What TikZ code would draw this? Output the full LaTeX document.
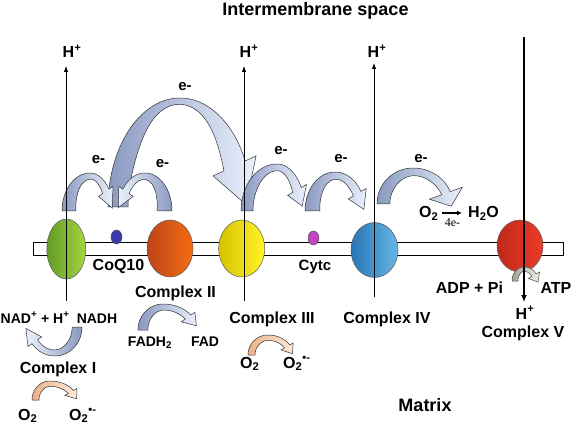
\documentclass[tikz,border=0pt]{standalone}
\usepackage{fontspec}
\setmainfont{Liberation Sans}
\newfontfamily\serifrm{Liberation Serif}
\usetikzlibrary{shapes.geometric,arrows.meta}

\definecolor{bdark}{RGB}{138,153,192}
\definecolor{blight}{RGB}{234,241,252}
\definecolor{pdark}{RGB}{236,176,138}
\definecolor{plight}{RGB}{253,234,218}
\definecolor{gdark}{RGB}{160,160,146}
\definecolor{glight}{RGB}{242,242,236}
\definecolor{grA}{RGB}{98,156,38}
\definecolor{grB}{RGB}{164,214,64}
\definecolor{orA}{RGB}{190,68,24}
\definecolor{orB}{RGB}{244,108,18}
\definecolor{yeA}{RGB}{214,194,0}
\definecolor{yeB}{RGB}{255,244,40}
\definecolor{blA}{RGB}{40,118,182}
\definecolor{blB}{RGB}{102,182,228}
\definecolor{reA}{RGB}{192,40,28}
\definecolor{reB}{RGB}{236,60,38}
\definecolor{coqc}{RGB}{56,56,168}
\definecolor{cytcc}{RGB}{196,66,196}

\pgfkeys{/carr/.cd,
  cx/.store in=\cAx, cy/.store in=\cAy, a/.store in=\cAa, ar/.store in=\cAar,
  b/.store in=\cAb, wt/.store in=\cAwt, wh/.store in=\cAwh, dip/.store in=\cAdip,
  phi/.store in=\cAphi, hw/.store in=\cAhw, hl/.store in=\cAhl,
  s/.store in=\cAs, v/.store in=\cAv}

\newcommand\carrow[2][]{%
  \pgfkeys{/carr/.cd,s=1,v=1,wt=12,wh=9,dip=3,phi=30,hw=5,hl=15,ar=-1,#2}%
  \pgfmathsetmacro\cAAR{\cAar<0?\cAa:\cAar}%
  \pgfmathsetmacro\cAc{cos(\cAphi)}%
  \pgfmathsetmacro\cAsn{sin(\cAphi)}%
  \pgfmathsetmacro\cAW{\cAwh-\cAdip*(\cAsn)^4}%
  \pgfmathsetmacro\cAap{\cAAR-\cAW/2}%
  \pgfmathsetmacro\cAbp{\cAb-\cAW/2}%
  \pgfmathsetmacro\cAtx{\cAs*\cAap*\cAsn}%
  \pgfmathsetmacro\cAty{\cAv*\cAbp*\cAc}%
  \pgfmathsetmacro\cAL{sqrt(\cAtx*\cAtx+\cAty*\cAty)}%
  \path[#1] plot[variable=\t,domain=180:\cAphi,samples=60]
     ({\cAx+\cAs*(\t>90?\cAa:\cAAR)*cos(\t)},{\cAy-\cAv*\cAb*sin(\t)})
   -- ({\cAx+\cAs*(\cAAR+\cAhw)*\cAc},{\cAy-\cAv*(\cAb+\cAhw)*\cAsn})
   -- ({\cAx+\cAs*\cAap*\cAc+\cAhl*\cAtx/\cAL},{\cAy-\cAv*\cAbp*\cAsn+\cAhl*\cAty/\cAL})
   -- ({\cAx+\cAs*(\cAAR-\cAW-\cAhw)*\cAc},{\cAy-\cAv*(\cAb-\cAW-\cAhw)*\cAsn})
   -- plot[variable=\t,domain=\cAphi:180,samples=60]
     ({\cAx+\cAs*((\t>90?\cAa:\cAAR)-(\cAwh+(\cAwt-\cAwh)*(\t-\cAphi)/(180-\cAphi)-\cAdip*sin(\t)^4))*cos(\t)},
      {\cAy-\cAv*(\cAb-(\cAwh+(\cAwt-\cAwh)*(\t-\cAphi)/(180-\cAphi)-\cAdip*sin(\t)^4))*sin(\t)})
   -- cycle;
}

\tikzset{
  blueR/.style={draw=black!80, line width=0.5pt, left color=bdark, right color=blight},
  blueL/.style={draw=black!80, line width=0.5pt, left color=blight, right color=bdark},
  peachR/.style={draw=black!80, line width=0.5pt, left color=pdark, right color=plight},
  greyR/.style={draw=black!70, line width=0.5pt, left color=gdark, right color=glight},
  cplx/.style={ellipse, draw=black!65, line width=0.5pt, inner sep=0pt},
  lbl/.style={font=\fontsize{16}{18}\selectfont\bfseries, inner sep=0pt, anchor=base},
  chem/.style={font=\fontsize{14}{16}\selectfont\bfseries, inner sep=0pt, anchor=base},
  elbl/.style={font=\fontsize{15}{17}\selectfont\bfseries, inner sep=0pt, anchor=base},
  biglbl/.style={font=\fontsize{18}{20}\selectfont\bfseries, inner sep=0pt, anchor=base},
  serlbl/.style={font=\fontsize{12}{14}\selectfont\serifrm, inner sep=0pt, anchor=base},
  vline/.style={line width=0.8pt, -{Latex[length=6pt,width=4.5pt]}},
  vthick/.style={line width=2.4pt, -{Latex[length=7pt,width=6pt]}}
}

\begin{document}
\begin{tikzpicture}[x=1pt,y=-1pt]
\useasboundingbox (0,0) rectangle (572,427);
\fill[white] (0,0) rectangle (572,427);

% membrane
\draw[line width=0.6pt, fill=white] (33,242.5) rectangle (563,255);

% complexes
\node[cplx, minimum width=39pt, minimum height=60pt, left color=grA, right color=grB] (c1) at (66.3,249) {};
\node[cplx, minimum width=11pt, minimum height=14pt, fill=coqc] (coq) at (116.5,237) {};
\node[cplx, minimum width=46pt, minimum height=57pt, left color=orA, right color=orB] (c2) at (170,248.5) {};
\node[cplx, minimum width=46pt, minimum height=57pt, left color=yeA, right color=yeB] (c3) at (241.7,248.5) {};
\node[cplx, minimum width=11pt, minimum height=14pt, fill=cytcc] (cyt) at (313.5,238) {};
\node[cplx, minimum width=47pt, minimum height=55pt, left color=blA, right color=blB] (c4) at (374.5,250) {};
\node[cplx, minimum width=46pt, minimum height=52pt, left color=reA, right color=reB] (c5) at (520,246) {};

% electron arrows
\carrow[blueR]{cx=180,cy=207,a=72,ar=72,b=109,wt=20,wh=24,dip=16,phi=25,hw=12,hl=40}
\carrow[blueR]{cx=90,cy=211,a=28,ar=23,b=38,wt=14,wh=8,dip=4,phi=35,hw=5,hl=18}
\carrow[blueL]{s=-1,cx=145,cy=211,a=27,ar=27,b=38,wt=15,wh=8,dip=4,phi=35,hw=5,hl=18}
\carrow[blueR]{cx=277,cy=211,a=36,ar=28,b=47,wt=12,wh=10,dip=4,phi=30,hw=6,hl=17}
\carrow[blueR]{cx=335,cy=211,a=30,ar=30,b=39,wt=15,wh=9,dip=4,phi=30,hw=6,hl=17}
\carrow[blueR]{cx=413,cy=204,a=36,ar=39.5,b=36,wt=13,wh=9,dip=3,phi=20,hw=13,hl=14}

% matrix side arrows
\carrow[blueL]{s=-1,v=-1,cx=55,cy=327,a=27,ar=28,b=29,wt=10,wh=7,dip=2,phi=35,hw=5,hl=16}
\carrow[blueR]{cx=163,cy=330,a=25,ar=34,b=26,wt=10,wh=7,dip=2,phi=35,hw=5,hl=12}
\carrow[peachR]{cx=50,cy=400,a=18,ar=27,b=19,wt=7,wh=6,dip=1,phi=30,hw=4,hl=9}
\carrow[peachR]{cx=268,cy=355,a=20,ar=25,b=20,wt=7,wh=6,dip=1,phi=30,hw=4,hl=9}
\carrow[greyR]{cx=524,cy=281,a=12,ar=14,b=14,wt=6,wh=5,dip=1,phi=30,hw=4,hl=8}

% proton lines
\coordinate (l1b) at (66,301);  \coordinate (l1t) at (66,66);
\coordinate (l3b) at (244,301); \coordinate (l3t) at (244,66);
\coordinate (l4b) at (374,297); \coordinate (l4t) at (374,63);
\coordinate (l5t) at (524,37);  \coordinate (l5b) at (524,302);
\draw[vline] (l1b) -- (l1t);
\draw[vline] (l3b) -- (l3t);
\draw[vline] (l4b) -- (l4t);
\draw[vthick] (l5t) -- (l5b);

% labels
\node[biglbl] (ims) at (315.5,16) {Intermembrane space};
\node[biglbl] (mtx) at (425,411) {Matrix};
\node[lbl] (h1) at (72,58) {H\textsuperscript{+}};
\node[lbl] (h3) at (249,58) {H\textsuperscript{+}};
\node[lbl] (h4) at (377,58) {H\textsuperscript{+}};
\node[lbl] (h5) at (525,319) {H\textsuperscript{+}};

\node[elbl] (ebig) at (185,91) {e-};
\node[elbl] (e1) at (98.5,164) {e-};
\node[elbl] (e2) at (162.5,168) {e-};
\node[elbl] (e3) at (281,155) {e-};
\node[elbl] (e4) at (341,163) {e-};
\node[elbl] (e5) at (421,163) {e-};

\node[lbl] (tcoq) at (118.5,270) {CoQ10};
\node[lbl] (tc2) at (175.5,297) {Complex II};
\node[lbl] (tc3) at (272,323) {Complex III};
\node[elbl] (tcyt) at (315,270) {Cytc};
\node[lbl] (tc4) at (387,323) {Complex IV};
\node[lbl] (tadp) at (469.5,294) {ADP + Pi};
\node[lbl] (tatp) at (556,294) {ATP};
\node[lbl] (tc5) at (523,337) {Complex V};

\node[chem, anchor=base west] (tnad) at (0.5,323) {NAD\textsuperscript{+} + H\textsuperscript{+}};
\node[chem] (tnadh) at (97,323) {NADH};
\node[chem] (tfadh) at (150,346) {FADH\textsubscript{2}};
\node[chem] (tfad) at (205,346) {FAD};
\node[lbl] (tc1) at (58,373) {Complex I};

\node[lbl, anchor=base west] (o2a) at (18,420) {O\textsubscript{2}};
\node[lbl, anchor=base west] (o2b) at (69,420) {O\textsubscript{2}\textsuperscript{•-}};
\node[lbl, anchor=base west] (o2c) at (240,368) {O\textsubscript{2}};
\node[lbl, anchor=base west] (o2d) at (283,368) {O\textsubscript{2}\textsuperscript{•-}};

\node[lbl, anchor=base west] (o2e) at (419,218) {O\textsubscript{2}};
\node[lbl, anchor=base west] (h2o) at (468,218) {H\textsubscript{2}O};
\node[serlbl] (fe) at (452.5,227) {4e-};
\coordinate (ra) at (442,213); \coordinate (rb) at (462,213);
\draw[line width=1.3pt, -{Latex[length=5pt,width=5pt]}] (ra) -- (rb);
\end{tikzpicture}
\end{document}
